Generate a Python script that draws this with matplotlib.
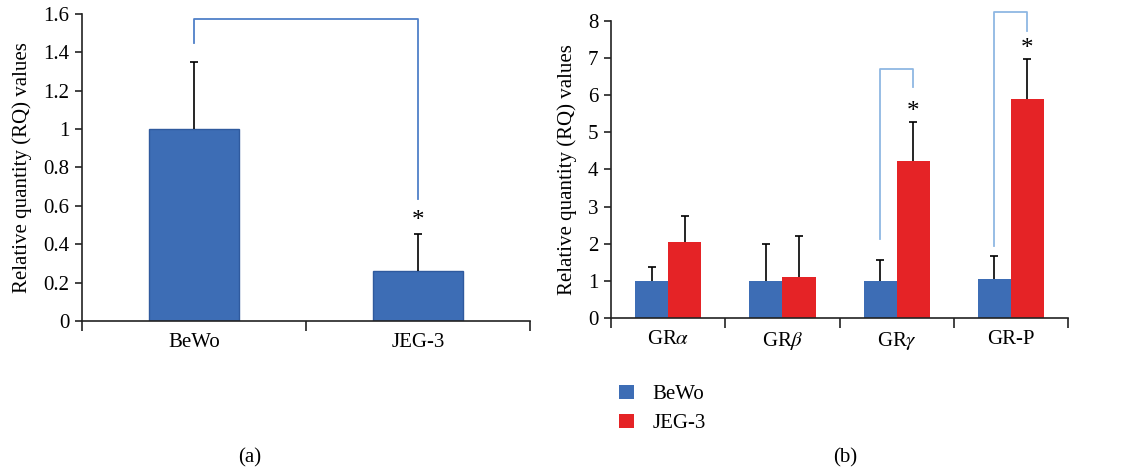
import matplotlib.pyplot as plt
import numpy as np

plt.rcParams['font.family'] = ['Liberation Serif', 'DejaVu Serif']
plt.rcParams['mathtext.fontset'] = 'stix'

# panel (a)
cells = ['BeWo', 'JEG-3']
rq_a = [1.0, 0.26]
err_a = [0.35, 0.195]

# panel (b)
genes = ['GR$\\alpha$', 'GR$\\beta$', 'GR$\\gamma$', 'GR-P']
rq_bewo = [1.0, 1.0, 1.0, 1.05]
err_bewo = [0.37, 1.0, 0.57, 0.63]
rq_jeg = [2.05, 1.1, 4.22, 5.9]
err_jeg = [0.7, 1.1, 1.06, 1.08]

blue = '#3d6db5'
red = '#e52326'
brk_a = '#4f80c8'
brk_b = '#8fb7e3'

fig = plt.figure(figsize=(11.45, 4.73), dpi=100)
ax1 = fig.add_axes([0.0716, 0.3214, 0.3913, 0.649])
ax2 = fig.add_axes([0.5336, 0.3277, 0.3992, 0.6279])


def style_axis(ax, n):
    for s in ['top', 'right']:
        ax.spines[s].set_visible(False)
    for s in ['left', 'bottom']:
        ax.spines[s].set_color('#222222')
        ax.spines[s].set_linewidth(1.2)
    ax.set_xlim(-0.5, n - 0.5)
    ax.set_xticks(np.arange(-0.5, n, 1.0))
    ax.set_xticklabels([])
    ax.set_xticks(np.arange(n), minor=True)
    ax.tick_params(axis='x', which='major', direction='out', length=7, width=1.2, color='#222222')
    ax.tick_params(axis='x', which='minor', length=0, pad=9, labelsize=15)
    ax.tick_params(axis='y', direction='out', length=5, width=1.2, color='#222222', labelsize=15, pad=4)


def upper_err(ax, xs, ys, errs):
    eb = ax.errorbar(xs, ys, yerr=[np.zeros(len(xs)), errs], fmt='none', ecolor='black',
                     elinewidth=1.2, capsize=3, capthick=1.2, zorder=3)
    eb[1][0].set_visible(False)  # no cap at the bar top


# (a)
x = np.arange(len(cells))
ax1.bar(x, rq_a, width=0.4, color=blue, edgecolor='#2f5a9e', linewidth=1, zorder=2)
upper_err(ax1, x, rq_a, err_a)
style_axis(ax1, len(cells))
ax1.set_xticklabels(cells, minor=True)
ax1.set_ylim(0, 1.6)
ax1.set_yticks(np.arange(0, 1.61, 0.2))
ax1.set_yticklabels(['0', '0.2', '0.4', '0.6', '0.8', '1', '1.2', '1.4', '1.6'])
ax1.set_ylabel('Relative quantity (RQ) values', fontsize=15, labelpad=8)
ax1.plot([0, 0, 1, 1], [1.45, 1.576, 1.576, 0.636], color=brk_a, lw=1.3, clip_on=False)
ax1.text(1, 0.52, '*', ha='center', va='center', fontsize=18)

# (b)
x = np.arange(len(genes))
w = 0.29
ax2.bar(x - w / 2, rq_bewo, width=w, color=blue, label='BeWo', zorder=2)
ax2.bar(x + w / 2, rq_jeg, width=w, color=red, label='JEG-3', zorder=2)
upper_err(ax2, x - w / 2, rq_bewo, err_bewo)
upper_err(ax2, x + w / 2, rq_jeg, err_jeg)
style_axis(ax2, len(genes))
ax2.set_xticklabels(genes, minor=True)
ax2.set_ylim(0, 8)
ax2.set_yticks(range(0, 9))
ax2.set_ylabel('Relative quantity (RQ) values', fontsize=15, labelpad=8)

# significance brackets
ax2.plot([2 - w / 2, 2 - w / 2, 2 + w / 2, 2 + w / 2], [2.13, 6.72, 6.72, 6.22],
         color=brk_b, lw=1.3, clip_on=False)
ax2.text(2 + w / 2, 5.55, '*', ha='center', va='center', fontsize=18)
ax2.plot([3 - w / 2, 3 - w / 2, 3 + w / 2, 3 + w / 2], [1.95, 8.24, 8.24, 7.72],
         color=brk_b, lw=1.3, clip_on=False)
ax2.text(3 + w / 2, 7.25, '*', ha='center', va='center', fontsize=18)

ax2.legend(loc='upper left', bbox_to_anchor=(0.018, -0.225), frameon=False, fontsize=15,
           handlelength=0.7, handleheight=0.7, handletextpad=0.9, labelspacing=0.45,
           borderaxespad=0, borderpad=0)

fig.text(250 / 1145, 1 - 458 / 473, '(a)', ha='center', va='center', fontsize=15)
fig.text(845 / 1145, 1 - 458 / 473, '(b)', ha='center', va='center', fontsize=15)

fig.savefig('out.png', dpi=100)
